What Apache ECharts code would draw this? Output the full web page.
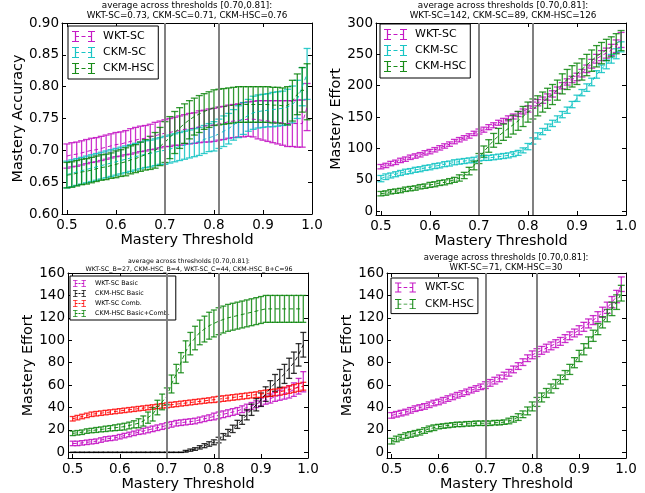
<!DOCTYPE html>
<html><head><meta charset="utf-8">
<script src="https://cdn.jsdelivr.net/npm/echarts@6/dist/echarts.min.js"></script>
<style>html,body{margin:0;padding:0;background:#fff}#c{width:645px;height:493px}</style>
</head><body><div id="c"></div><script>
// ---------- data ----------
const thresholds = [0.50,0.51,0.52,0.53,0.54,0.55,0.56,0.57,0.58,0.59,0.60,0.61,0.62,0.63,0.64,0.65,0.66,0.67,0.68,0.69,0.70,0.71,0.72,0.73,0.74,0.75,0.76,0.77,0.78,0.79,0.80,0.81,0.82,0.83,0.84,0.85,0.86,0.87,0.88,0.89,0.90,0.91,0.92,0.93,0.94,0.95,0.96,0.97,0.98,0.99];
const xTicks = [0.5,0.6,0.7,0.8,0.9,1.0];
const thresholdLines = [0.70, 0.81];
const accTicks = [0.60,0.65,0.70,0.75,0.80,0.85,0.90];
const effTicksTop = [0,50,100,150,200,250,300];
const effTicksBottom = [0,20,40,60,80,100,120,140,160];

// top-left: Mastery Accuracy
const accWktMean = [0.691,0.693,0.694,0.696,0.698,0.700,0.701,0.703,0.705,0.707,0.709,0.710,0.712,0.714,0.716,0.718,0.719,0.721,0.723,0.725,0.727,0.728,0.730,0.731,0.733,0.734,0.735,0.737,0.738,0.739,0.740,0.742,0.743,0.745,0.746,0.747,0.748,0.749,0.749,0.748,0.747,0.746,0.745,0.744,0.743,0.742,0.742,0.742,0.742,0.768];
const accWktErr = [0.019,0.019,0.019,0.019,0.019,0.019,0.019,0.019,0.019,0.019,0.019,0.019,0.019,0.020,0.020,0.020,0.020,0.020,0.021,0.021,0.021,0.022,0.022,0.023,0.023,0.024,0.024,0.025,0.025,0.026,0.026,0.026,0.026,0.026,0.026,0.026,0.027,0.027,0.028,0.030,0.031,0.032,0.033,0.034,0.035,0.036,0.036,0.037,0.037,0.037];
const accCkmScMean = [0.662,0.664,0.666,0.668,0.670,0.672,0.674,0.676,0.678,0.680,0.682,0.684,0.686,0.688,0.690,0.692,0.694,0.695,0.697,0.699,0.700,0.702,0.704,0.706,0.708,0.710,0.712,0.714,0.717,0.720,0.722,0.726,0.730,0.734,0.740,0.745,0.750,0.755,0.759,0.761,0.762,0.763,0.764,0.765,0.766,0.768,0.772,0.780,0.800,0.820];
const accCkmScErr = [0.021,0.021,0.021,0.021,0.021,0.021,0.021,0.021,0.021,0.021,0.021,0.021,0.021,0.021,0.021,0.021,0.021,0.021,0.021,0.021,0.022,0.022,0.022,0.022,0.022,0.022,0.022,0.022,0.022,0.022,0.023,0.023,0.024,0.024,0.024,0.025,0.025,0.025,0.026,0.026,0.026,0.026,0.027,0.027,0.027,0.028,0.029,0.030,0.030,0.040];
const accCkmHscMean = [0.661,0.662,0.664,0.666,0.667,0.669,0.671,0.673,0.674,0.676,0.678,0.680,0.682,0.685,0.687,0.690,0.693,0.696,0.700,0.706,0.713,0.720,0.728,0.735,0.742,0.748,0.753,0.757,0.761,0.764,0.767,0.768,0.769,0.770,0.771,0.772,0.772,0.772,0.772,0.772,0.772,0.772,0.771,0.771,0.770,0.770,0.778,0.788,0.795,0.792];
const accCkmHscErr = [0.020,0.020,0.020,0.020,0.020,0.020,0.020,0.020,0.020,0.020,0.021,0.021,0.022,0.022,0.022,0.023,0.024,0.026,0.028,0.030,0.032,0.033,0.033,0.032,0.031,0.030,0.029,0.029,0.028,0.028,0.028,0.028,0.028,0.028,0.028,0.028,0.028,0.028,0.028,0.028,0.028,0.028,0.028,0.028,0.028,0.030,0.032,0.032,0.035,0.044];

// top-right: Mastery Effort
const effWktMean = [71,73,76,78,81,83,86,88,90,93,95,98,101,104,107,111,114,117,120,124,127,130,134,137,141,144,148,151,155,159,163,169,173,177,182,187,193,200,206,210,214,220,227,235,243,248,252,257,263,273];
const effWktErr = [3.5,3.5,3.5,3.5,3.5,3.5,3.5,3.5,3.5,3.5,3.5,3.5,3.5,3.5,3.5,3.5,3.5,3.5,3.5,3.5,4,4,4,4,4,4,4,4,4,4,5,5,5,5,5,5,5,5,5,5,6,6,6,7,7,8,8,9,10,12];
const effCkmScMean = [52,55,57,59,61,63,64,66,67,69,70,72,73,75,76,78,79,80,81,82,84,85,85,86,87,88,89,91,93,97,103,112,120,127,134,140,147,154,161,170,180,189,197,206,218,227,234,243,251,262];
const effCkmScErr = [5,4.5,4,4,4,4,4,4,4,4,4,4,4,4,4,4,4,4,4,4,4,4,4,4,4,4,4,4,4,4,5,5,5,5,5,5,5,5,5,5,5,5,6,6,6,6,7,7,8,8];
const effCkmHscMean = [28,29,31,32,33,35,36,37,39,40,42,43,45,46,48,50,53,57,64,73,84,95,104,113,120,126,132,138,144,151,158,163,168,174,180,186,193,203,210,215,219,226,233,240,247,252,257,262,267,272];
const effCkmHscErr = [3.5,3.5,3.5,3.5,3.5,3.5,3.5,3.5,3.5,3.5,4,4,4,4,4,4,5,5,6,7,8,9,10,11,12,13,14,15,15,16,16,16,16,16,16,16,16,16,16,17,17,17,17,17,17,17,17,16,16,16];

// bottom-left: Mastery Effort (Basic / Combination)
const wktBasicMean = [8,8,8.5,9,9.5,10,11,12,12.5,13,14,15,16,17,18,19,20,21,22,23,24,25,26,26.5,27,27.5,28,29,30,31,32,33,34,35,36,37,38.5,40,41.5,43,45,46.5,48,49.5,51,52.5,54,56,59,63];
const wktBasicErr = [2,2,2,2,2,2,2,2,2,2,2,2,2,2,2,2.5,2.5,2.5,2.5,2.5,2.5,2.5,2.5,2.5,2.5,2.5,2.5,2.5,2.5,2.5,3,3,3,3,3,3,3,3,3,3,3.5,3.5,4,4,4.5,5,5.5,6,7,9];
const hscBasicMean = [0,0,0,0,0,0,0,0,0,0,0,0,0,0,0,0,0,0,0,0,0,0,0,0,1,2,3,4.5,6,7.5,9,11,14,17.5,21,25,29,33.5,38,42.5,47,52,57,62,66,70,75,80,87,96];
const hscBasicErr = [0,0,0,0,0,0,0,0,0,0,0,0,0,0,0,0,0,0,0,0,0,0,0,0,0.8,1,1.2,1.5,1.8,2,2.2,2.5,2.8,3,3.3,3.6,4,4.5,5,5.5,6,6.5,7,7.5,8,8.5,9,9.5,10,11];
const wktCombMean = [30,31,32,33,34,34.5,35,35.5,36,36.5,37,37.5,38,38.5,39,39.5,40,40.5,41,41.5,42,42.5,43,43.5,44,44.5,45,45.5,46,46.5,47,47.5,48,48.5,49,49.5,50,50.5,51,51.5,52,52.5,53,53.5,54,55,56,57,58,59];
const wktCombErr = [2,2,2,2,2,2,2,2,2,2,2,2,2,2,2,2,2,2,2,2,2.2,2.2,2.2,2.2,2.2,2.2,2.2,2.2,2.2,2.2,2.5,2.5,2.5,2.5,2.5,2.5,2.5,2.5,2.5,2.5,3,3,3,3,3,3.2,3.3,3.4,3.5,3.5];
const hscBCMean = [17,17.5,18,19,19.5,20,20.5,21,21.5,22,22.5,23,24,25,26,28,31,34,40,45,50,61,70,80,90,97,102,107,110,113,115,117,118.5,120,121,122,123,124,125,126,127,128,128,128,128,128,128,128,128,128];
const hscBCErr = [2,2,2,2,2,2.2,2.2,2.4,2.4,2.6,2.8,3,3,3.2,4,4.5,5,6,6.5,7,7.5,8,8.5,9,9.5,10,10.5,11,11.5,12,12,12,12,12,12,12,12,12,12,12,12,12,12,12,12,12,12,12,12,12];

// bottom-right: Mastery Effort
const brWktMean = [33,34,35,36,37.5,39,40,41,42.5,44,45,46.5,48,49.5,51,52.5,54,55.5,57,58.5,60,62,64,66,68.5,71,74,77,80.5,84,87,89,91,93,95,97,99,101.5,104,106.5,109,112,115,118,121,125,129,134,139,150];
const brWktErr = [2.5,2.5,2.5,2.5,2.5,2.5,2.5,2.5,2.5,2.5,2.5,2.5,2.5,2.5,2.5,2.5,2.5,2.5,2.5,2.5,3,3,3,3,3,3,3,3,3,3,3.5,3.5,3.5,3.5,3.5,3.5,3.5,3.5,3.5,3.5,4,4,4,4,4.5,4.5,5,5,5.5,6.5];
const brHscMean = [10,12,13.5,15,16,17,18,19.5,21,22,23,23.5,24,24.5,25,25,25.5,25.5,26,26,26,26,26.5,26.5,27,28,29.5,31.5,34,37,41,45,49,53,57,61,65,69,74,80,86,92,98,104,110,116,122,128,134,142];
const brHscErr = [2.5,2.5,2.5,2.5,2.5,2.5,2.5,2.5,2.5,2.5,2,2,2,2,2,2,2,2,2,2,2,2,2,2,2,2.5,2.5,3,3,3.5,4,4,4,4,4,4,4,4,4.5,4.5,5,5,5,5,5,5,5.5,6,6.5,7];

// ---------- styling ----------
const FONT = 'DejaVu Sans';
const COL = {m:'#bf00bf', c:'#00bfbf', g:'#008000', r:'#ff0000', k:'#000000'};
const ICON_BIG = 'path://M0 0H7V1H0Z M0 10H7V11H0Z M2.9 0H4.1V11H2.9Z M16 0H23V1H16Z M16 10H23V11H16Z M18.9 0H20.1V11H18.9Z M4 5H7V6H4Z M9.5 5H13.5V6H9.5Z M16 5H19V6H16Z';
const ICON_SMALL = 'path://M0 0H4.5V0.8H0Z M0 6.2H4.5V7H0Z M1.85 0H2.65V7H1.85Z M8.5 0H13V0.8H8.5Z M8.5 6.2H13V7H8.5Z M10.35 0H11.15V7H10.35Z M2.5 3.1H4.5V3.9H2.5Z M5.5 3.1H7.5V3.9H5.5Z M8.5 3.1H10.5V3.9H8.5Z';

const panels = [
  {grid:{left:62, top:23, width:250, height:191}, yMin:0.6, yMax:0.9, yTicks:accTicks, yFmt:v=>v.toFixed(2),
   yName:'Mastery Accuracy', yNameGap:36, cap:3.5,
   title:'average across thresholds [0.70,0.81]:\nWKT-SC=0.73, CKM-SC=0.71, CKM-HSC=0.76', titleX:187, titleY:0.5, titleSize:8.8, titleLH:10.3,
   series:[{name:'WKT-SC',color:COL.m,mean:accWktMean,err:accWktErr},{name:'CKM-SC',color:COL.c,mean:accCkmScMean,err:accCkmScErr},{name:'CKM-HSC',color:COL.g,mean:accCkmHscMean,err:accCkmHscErr}],
   legend:{left:68, top:26, icon:ICON_BIG, iw:23, ih:11, gap:5, pad:[5,4,5,4], fs:11, tp:3}},
  {grid:{left:376, top:23, width:250, height:192}, yMin:-6, yMax:300, yTicks:effTicksTop, yFmt:v=>String(v),
   yName:'Mastery Effort', yNameGap:33, cap:3.5,
   title:'average across thresholds [0.70,0.81]:\nWKT-SC=142, CKM-SC=89, CKM-HSC=126', titleX:503, titleY:0.5, titleSize:8.8, titleLH:10.3,
   series:[{name:'WKT-SC',color:COL.m,mean:effWktMean,err:effWktErr},{name:'CKM-SC',color:COL.c,mean:effCkmScMean,err:effCkmScErr},{name:'CKM-HSC',color:COL.g,mean:effCkmHscMean,err:effCkmHscErr}],
   legend:{left:380, top:24, icon:ICON_BIG, iw:23, ih:11, gap:5, pad:[5,4,6,4], fs:11, tp:3}},
  {grid:{left:68, top:273, width:240, height:185}, yMin:-5, yMax:160, yTicks:effTicksBottom, yFmt:v=>String(v),
   yName:'Mastery Effort', yNameGap:30, cap:3,
   title:'average across thresholds [0.70,0.81]:\nWKT-SC_B=27, CKM-HSC_B=4, WKT-SC_C=44, CKM-HSC_B+C=96', titleX:189, titleY:258, titleSize:6.3, titleLH:7.4,
   series:[{name:'WKT-SC Basic',color:COL.m,mean:wktBasicMean,err:wktBasicErr},{name:'CKM-HSC Basic',color:COL.k,mean:hscBasicMean,err:hscBasicErr},{name:'WKT-SC Comb.',color:COL.r,mean:wktCombMean,err:wktCombErr},{name:'CKM-HSC Basic+Comb.',color:COL.g,mean:hscBCMean,err:hscBCErr}],
   legend:{left:70, top:276, icon:ICON_SMALL, iw:13, ih:7, gap:3, pad:[4,6,3,3], fs:6.4, tp:4}},
  {grid:{left:387, top:273, width:239, height:185}, yMin:-5, yMax:160, yTicks:effTicksBottom, yFmt:v=>String(v),
   yName:'Mastery Effort', yNameGap:30, cap:3.5,
   title:'average across thresholds [0.70,0.81]:\nWKT-SC=71, CKM-HSC=30', titleX:506, titleY:253, titleSize:8.5, titleLH:10,
   series:[{name:'WKT-SC',color:COL.m,mean:brWktMean,err:brWktErr},{name:'CKM-HSC',color:COL.g,mean:brHscMean,err:brHscErr}],
   legend:{left:391, top:278, icon:ICON_BIG, iw:23, ih:10, gap:5.6, pad:[4,4,4,4], fs:10.5, tp:3}}
];

function errRender(color, capHalf) {
  return function (params, api) {
    const x = api.value(0), m = api.value(1), e = api.value(2);
    const top = api.coord([x, m + e]);
    const bot = api.coord([x, m - e]);
    const style = {stroke: color, lineWidth: 1.3, opacity: 0.8, fill: null};
    return {type:'group', children:[
      {type:'line', shape:{x1:top[0], y1:top[1], x2:bot[0], y2:bot[1]}, style},
      {type:'line', shape:{x1:top[0]-capHalf, y1:top[1], x2:top[0]+capHalf, y2:top[1]}, style},
      {type:'line', shape:{x1:bot[0]-capHalf, y1:bot[1], x2:bot[0]+capHalf, y2:bot[1]}, style}
    ]};
  };
}

const option = {animation:false, backgroundColor:'#fff', grid:[], xAxis:[], yAxis:[], series:[], title:[], legend:[]};
const txt = {fontFamily:FONT, color:'#000'};

panels.forEach((p, i) => {
  option.grid.push(Object.assign({containLabel:false}, p.grid));
  const axisLine = {show:true, onZero:false, lineStyle:{color:'#000', width:1}};
  const tick = vals => ({show:true, inside:true, length:4, customValues:vals, lineStyle:{color:'#000', width:1}});
  option.xAxis.push({type:'value', gridIndex:i, position:'bottom', min:0.49, max:1.0,
    axisLine, axisTick:tick(xTicks), splitLine:{show:false},
    axisLabel:Object.assign({show:true, customValues:xTicks, formatter:v=>v.toFixed(1), margin:4, fontSize:13.5}, txt),
    name:'Mastery Threshold', nameLocation:'middle', nameGap:18, nameTextStyle:Object.assign({fontSize:14.4}, txt)});
  option.xAxis.push({type:'value', gridIndex:i, position:'top', min:0.49, max:1.0,
    axisLine, axisTick:tick(xTicks), splitLine:{show:false}, axisLabel:{show:false}});
  option.yAxis.push({type:'value', gridIndex:i, position:'left', min:p.yMin, max:p.yMax,
    axisLine, axisTick:tick(p.yTicks), splitLine:{show:false},
    axisLabel:Object.assign({show:true, customValues:p.yTicks, formatter:p.yFmt, margin:3, fontSize:13.5}, txt),
    name:p.yName, nameLocation:'middle', nameGap:p.yNameGap, nameTextStyle:Object.assign({fontSize:14.4}, txt)});
  option.yAxis.push({type:'value', gridIndex:i, position:'right', min:p.yMin, max:p.yMax,
    axisLine, axisTick:tick(p.yTicks), splitLine:{show:false}, axisLabel:{show:false}});

  p.series.forEach(s => {
    option.series.push({type:'custom', name:s.name, xAxisIndex:2*i, yAxisIndex:2*i, clip:true, silent:true,
      itemStyle:{color:s.color}, encode:{x:0, y:1},
      renderItem:errRender(s.color, p.cap),
      data:thresholds.map((x, k) => [x, s.mean[k], s.err[k]])});
    option.series.push({type:'line', name:s.name, xAxisIndex:2*i, yAxisIndex:2*i, symbol:'none', silent:true,
      color:s.color, lineStyle:{color:s.color, width:1, type:[4,3], opacity:0.9},
      data:thresholds.map((x, k) => [x, s.mean[k]])});
  });
  option.series.push({type:'line', name:'thresholds'+i, xAxisIndex:2*i, yAxisIndex:2*i, data:[], silent:true,
    markLine:{silent:true, symbol:'none', label:{show:false}, animation:false,
      lineStyle:{color:'#808080', width:2, type:'solid'},
      emphasis:{disabled:true},
      data:thresholdLines.map(v => ({xAxis:v}))}});

  option.title.push({text:p.title, left:p.titleX, top:p.titleY, textAlign:'center', padding:0,
    textStyle:{fontFamily:FONT, fontSize:p.titleSize, fontWeight:'normal', color:'#000', lineHeight:p.titleLH}});

  const L = p.legend;
  option.legend.push({orient:'vertical', left:L.left, top:L.top, padding:L.pad, itemWidth:L.iw, itemHeight:L.ih,
    itemGap:L.gap, borderColor:'#000', borderWidth:1, backgroundColor:'#fff', selectedMode:false,
    textStyle:{fontFamily:FONT, fontSize:L.fs, color:'#000', padding:[0,0,0,L.tp]},
    itemStyle:{borderWidth:0},
    data:p.series.map(s => ({name:s.name, icon:L.icon, itemStyle:{color:s.color, opacity:0.9, borderWidth:0}}))});
});

const chart = echarts.init(document.getElementById('c'), null, {renderer:'canvas'});
chart.setOption(option);
</script></body></html>
